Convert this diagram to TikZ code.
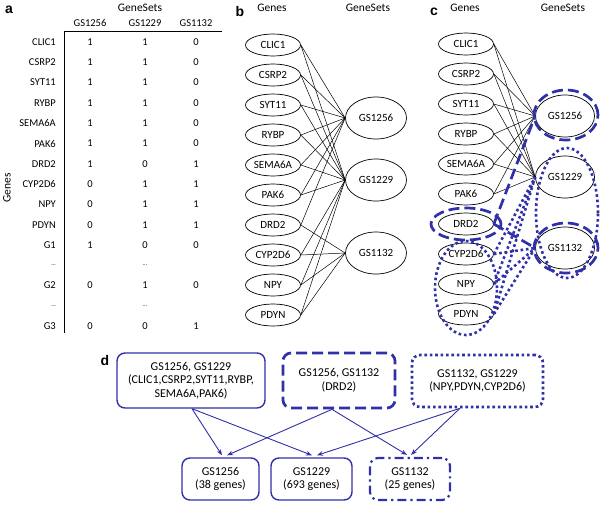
\documentclass[tikz,border=0pt]{standalone}
\usepackage{fontspec}
\setmainfont{Carlito}
\newfontfamily\lblfont{Liberation Sans}
\usetikzlibrary{shapes.geometric,calc,arrows.meta}
\definecolor{blu}{RGB}{48,48,168}
\def\dashmark{-}
\begin{document}
\begin{tikzpicture}[x=1pt,y=-1pt,
  gene/.style={ellipse, draw, line width=0.7pt, minimum width=55pt, minimum height=22pt, inner sep=0pt, font=\fontsize{11}{12}\selectfont},
  gset/.style={ellipse, draw, line width=0.7pt, minimum width=61pt, minimum height=42pt, inner sep=0pt, font=\fontsize{11}{12}\selectfont},
  edge/.style={line width=0.5pt},
  panel/.style={font=\lblfont\bfseries\fontsize{14}{16}\selectfont, inner sep=0pt},
  hdr/.style={font=\fontsize{11.5}{13}\selectfont, inner sep=0pt},
  cell/.style={font=\fontsize{10.5}{12}\selectfont, inner sep=0pt},
  dotsy/.style={font=\fontsize{6}{7}\selectfont, inner sep=0pt},
  bigdash/.style={draw=blu, line width=2.7pt, dash pattern=on 11pt off 5pt},
  bigdot/.style={draw=blu, line width=2.6pt, dash pattern=on 2.6pt off 2.8pt},
  dbox/.style={draw=blu, rounded corners=8pt, line width=1.4pt, align=center, inner sep=0pt, font=\fontsize{12}{13.5}\selectfont},
  arr/.style={draw=blu, line width=0.9pt, -{Stealth[length=6pt,width=4.5pt]}},
]
\useasboundingbox (0,0) rectangle (600,504);

% ---------------- panel a ----------------
\node[panel] (la) at (9,10) {a};
\node[hdr] (hGS) at (140,8) {GeneSets};
\node[cell] (h1) at (90,23) {GS1256};
\node[cell] (h2) at (145,23) {GS1229};
\node[cell] (h3) at (196,23) {GS1132};
\node[hdr, rotate=90] (hGenes) at (7,188) {Genes};
\coordinate (corner) at (64,31);
\coordinate (hend) at (222,31);
\coordinate (vend) at (64,333);
\draw[line width=0.8pt] (hend) -- (corner) -- (vend);
\foreach \nm/\va/\vb/\vc [count=\i from 0] in {CLIC1/1/1/0,CSRP2/1/1/0,SYT11/1/1/0,RYBP/1/1/0,SEMA6A/1/1/0,PAK6/1/1/0,DRD2/1/0/1,CYP2D6/0/1/1,NPY/0/1/1,PDYN/0/1/1,G1/1/0/0,X/-/-/-,G2/0/1/0,Y/-/-/-,G3/0/0/1}{
  \pgfmathsetmacro{\yy}{42+20.3*\i}
  \ifx\va\dashmark
    \node[dotsy, anchor=east] (ra\i) at (56,\yy) {...};
    \node[dotsy] (vb\i) at (145,\yy) {...};
  \else
    \node[cell, anchor=east] (ra\i) at (56,\yy) {\nm};
    \node[cell] (va\i) at (90,\yy) {\va};
    \node[cell] (vb\i) at (145,\yy) {\vb};
    \node[cell] (vc\i) at (196,\yy) {\vc};
  \fi
}

% ---------------- panel b ----------------
\node[panel] (lb) at (240,11) {b};
\node[hdr] (bGenesH) at (272,8) {Genes};
\node[hdr] (bSetsH) at (368,8) {GeneSets};
\foreach \nm [count=\i from 0] in {CLIC1,CSRP2,SYT11,RYBP,SEMA6A,PAK6,DRD2,CYP2D6,NPY,PDYN}
  \node[gene] (b\nm) at (273,45+30*\i) {\nm};
\node[gset] (bGS1256) at (376,118) {GS1256};
\node[gset] (bGS1229) at (376,180) {GS1229};
\node[gset] (bGS1132) at (376,253) {GS1132};
\foreach \nm in {CLIC1,CSRP2,SYT11,RYBP,SEMA6A,PAK6,DRD2}
  \draw[edge] (b\nm.east) -- (bGS1256.west);
\foreach \nm in {CLIC1,CSRP2,SYT11,RYBP,SEMA6A,PAK6,CYP2D6,NPY,PDYN}
  \draw[edge] (b\nm.east) -- (bGS1229.west);
\foreach \nm in {DRD2,CYP2D6,NPY,PDYN}
  \draw[edge] (b\nm.east) -- (bGS1132.west);

% ---------------- panel c ----------------
\node[panel] (lc) at (434,12) {c};
\node[hdr] (cGenesH) at (465,8) {Genes};
\node[hdr] (cSetsH) at (563,8) {GeneSets};
\foreach \nm [count=\i from 0] in {CLIC1,CSRP2,SYT11,RYBP,SEMA6A,PAK6,DRD2,CYP2D6,NPY,PDYN}
  \node[gene] (c\nm) at (466,44+30*\i) {\nm};
\node[gset, minimum width=59pt] (cGS1256) at (565,116) {GS1256};
\node[gset, minimum width=59pt] (cGS1229) at (565,177) {GS1229};
\node[gset, minimum width=59pt] (cGS1132) at (565,248) {GS1132};
\foreach \nm in {CLIC1,CSRP2,SYT11,RYBP,SEMA6A,PAK6}{
  \draw[edge] (c\nm.east) -- (cGS1256.west);
  \draw[edge] (c\nm.east) -- (cGS1229.west);
}
% dashed highlight (DRD2)
\draw[bigdash] (cDRD2.east) -- (cGS1256.west);
\draw[bigdash] (cDRD2.east) -- (cGS1132.west);
\node[bigdash, ellipse, minimum width=70pt, minimum height=32pt] (hDRD2) at (466,224) {};
\node[bigdash, ellipse, minimum width=64pt, minimum height=50pt] (hGS1256) at (566,115) {};
\node[bigdash, ellipse, minimum width=64pt, minimum height=50pt] (hGS1132) at (566,248) {};
% dotted highlight (CYP2D6, NPY, PDYN)
\foreach \nm in {CYP2D6,NPY,PDYN}{
  \draw[bigdot] (c\nm.east) -- (cGS1229.west);
  \draw[bigdot] (c\nm.east) -- (cGS1132.west);
}
\node[bigdot, ellipse, minimum width=62pt, minimum height=130pt] (hSets) at (567,213) {};
\node[bigdot, ellipse, minimum width=62pt, minimum height=94pt] (hGenes3) at (466,288) {};

% ---------------- panel d ----------------
\node[panel] (ld) at (105,360) {d};
\node[dbox, minimum width=148pt, minimum height=55pt] (box1) at (191,380.5) {GS1256, GS1229\\(CLIC1,CSRP2,SYT11,RYBP,\\SEMA6A,PAK6)};
\node[dbox, dash pattern=on 11pt off 5pt, line width=2.7pt, minimum width=112pt, minimum height=55pt] (box2) at (339,380.5) {GS1256, GS1132\\(DRD2)};
\node[dbox, line width=2.6pt, dash pattern=on 2.6pt off 2.8pt, minimum width=131pt, minimum height=52pt] (box3) at (477.5,381) {GS1132, GS1229\\(NPY,PDYN,CYP2D6)};
\node[dbox, minimum width=77pt, minimum height=42pt] (res1) at (220.5,479) {GS1256\\(38 genes)};
\node[dbox, minimum width=81pt, minimum height=42pt] (res2) at (311.5,479) {GS1229\\(693 genes)};
\node[dbox, line width=2.2pt, dash pattern=on 9pt off 4pt on 2.2pt off 4pt, minimum width=80pt, minimum height=42pt] (res3) at (410,479) {GS1132\\(25 genes)};

\coordinate (s1) at ($(box1.south)+(1,0)$);
\coordinate (s2) at ($(box2.south)+(-7,0)$);
\coordinate (s3) at ($(box3.south)+(-17.5,0)$);
\coordinate (t11) at ($(res1.north)+(1.5,-2)$);
\coordinate (t21) at ($(res1.north)+(6.5,-2)$);
\coordinate (t12) at ($(res2.north)+(0.5,-2)$);
\coordinate (t32) at ($(res2.north)+(5.5,-2)$);
\coordinate (t23) at ($(res3.north)+(-3,-2)$);
\coordinate (t33) at ($(res3.north)+(1,-2)$);
\draw[arr] (s1) -- (t11);
\draw[arr] (s1) -- (t12);
\draw[arr] (s2) -- (t21);
\draw[arr] (s2) -- (t23);
\draw[arr] (s3) -- (t32);
\draw[arr] (s3) -- (t33);
\end{tikzpicture}
\end{document}
